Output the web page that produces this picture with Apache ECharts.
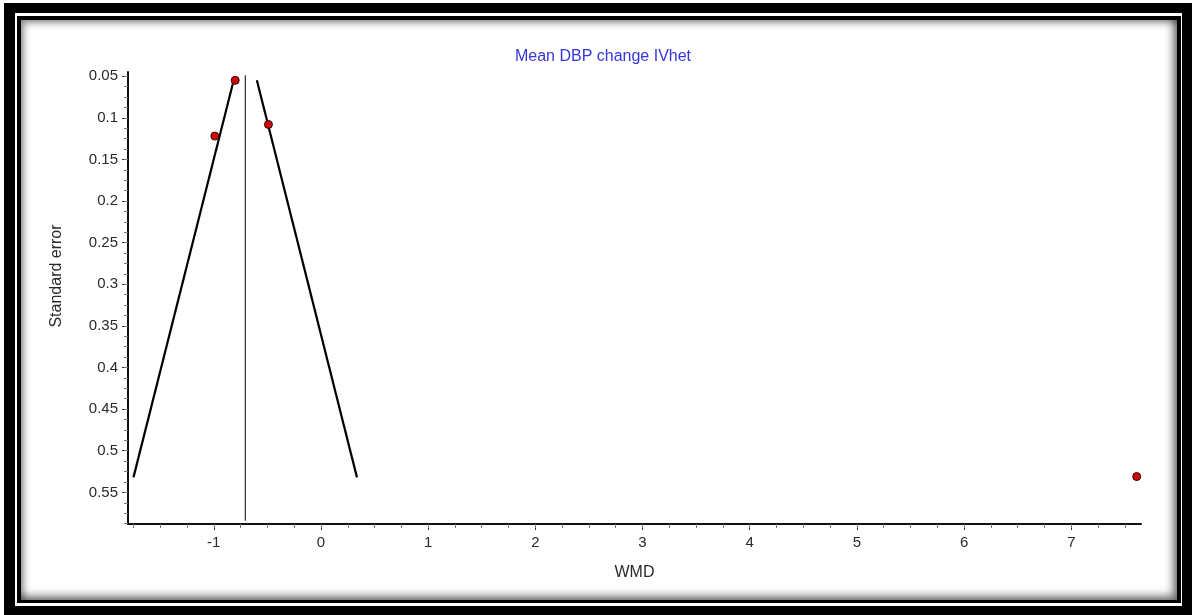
<!DOCTYPE html>
<html>
<head>
<meta charset="utf-8">
<script src="https://cdn.jsdelivr.net/npm/echarts@6/dist/echarts.min.js"></script>
<style>
  html, body { margin: 0; padding: 0; background: #fff; }
  #outer { position: absolute; left: 4px; top: 3px; width: 1188px; height: 612px; background: #000; }
  #gap { position: absolute; left: 15px; top: 13px; width: 1167px; height: 593px; background: #fff; }
  #inner { position: absolute; left: 17px; top: 16px; width: 1164px; height: 587px; background: #000; }
  #panel { position: absolute; left: 21px; top: 20px; width: 1156px; height: 580px; background: #fff;
           box-shadow: inset 3px 3px 7px rgba(0,0,0,0.4), inset -4px -4px 9px rgba(0,0,0,0.55); }
  #chart { position: absolute; left: 0; top: 0; width: 1192px; height: 615px; }
</style>
</head>
<body>
<div id="outer"></div>
<div id="gap"></div>
<div id="inner"></div>
<div id="panel"></div>
<div id="chart"></div>
<script>
// study estimates (WMD) and their standard errors
const wmd = [-0.80, -0.99, -0.49, 7.61];
const stdErr = [0.055, 0.122, 0.108, 0.531];

// pooled IVhet estimate and funnel limits
const pooled = -0.706;
const pooledLine = [[pooled, 0.049], [pooled, 0.584]];
const funnelLeft = [[-1.749, 0.532], [-0.814, 0.055]];
const funnelRight = [[-0.598, 0.055], [0.336, 0.532]];

// tick labels
const xTicks = [-1, 0, 1, 2, 3, 4, 5, 6, 7];
const yTicks = [0.05, 0.1, 0.15, 0.2, 0.25, 0.3, 0.35, 0.4, 0.45, 0.5, 0.55];

const xMin = -1.8, xMax = 7.65;
const yMin = 0.045, yMax = 0.588;

const xMinor = [];
for (let v = -1.75; v <= 7.5 + 1e-9; v += 0.25) xMinor.push(+v.toFixed(2));
const yMinor = [];
for (let v = 0.05; v <= 0.5875 + 1e-9; v += 0.0125) yMinor.push(+v.toFixed(4));

const points = wmd.map((x, i) => [x, stdErr[i]]);

const chart = echarts.init(document.getElementById('chart'));
const fam = 'Arial, Liberation Sans, sans-serif';
const labelFont = { fontFamily: fam, fontSize: 15, color: '#2a2a2a' };
const nameFont = { fontFamily: fam, fontSize: 16, color: '#2a2a2a' };

chart.setOption({
  animation: false,
  backgroundColor: 'transparent',
  title: {
    text: 'Mean DBP change IVhet',
    left: 598,
    top: 44,
    textAlign: 'center',
    textStyle: { fontFamily: fam, fontSize: 16, fontWeight: 'normal', color: '#3535dd' }
  },
  grid: { left: 128, top: 72, width: 1013, height: 452, containLabel: false },
  xAxis: [
    {
      type: 'value', min: xMin, max: xMax,
      splitLine: { show: false },
      axisLine: { show: true, onZero: false, lineStyle: { color: '#111', width: 2 } },
      axisTick: { show: true, customValues: xTicks, length: 6, lineStyle: { color: '#333', width: 1 } },
      axisLabel: { customValues: xTicks, margin: 11, ...labelFont },
      name: 'WMD', nameLocation: 'middle', nameGap: 41,
      nameTextStyle: nameFont
    },
    {
      type: 'value', min: xMin, max: xMax, position: 'bottom',
      splitLine: { show: false },
      axisLine: { show: false, onZero: false },
      axisTick: { show: true, customValues: xMinor, length: 4, lineStyle: { color: '#777', width: 1 } },
      axisLabel: { show: false }
    }
  ],
  yAxis: [
    {
      type: 'value', min: yMin, max: yMax, inverse: true,
      splitLine: { show: false },
      axisLine: { show: true, onZero: false, lineStyle: { color: '#111', width: 2 } },
      axisTick: { show: true, customValues: yTicks, length: 6, lineStyle: { color: '#333', width: 1 } },
      axisLabel: { customValues: yTicks, margin: 10, ...labelFont }
    },
    {
      type: 'value', min: yMin, max: yMax, inverse: true, position: 'left',
      splitLine: { show: false },
      axisLine: { show: false, onZero: false },
      axisTick: { show: true, customValues: yMinor, length: 4, lineStyle: { color: '#777', width: 1 } },
      axisLabel: { show: false }
    }
  ],
  graphic: [
    {
      type: 'text', x: 57, y: 276, rotation: Math.PI / 2,
      style: { text: 'Standard error', fill: '#2a2a2a', align: 'center', verticalAlign: 'middle', font: '16px ' + fam }
    }
  ],
  series: [
    {
      type: 'line', data: pooledLine, symbol: 'none', silent: true,
      lineStyle: { color: '#000', width: 1 }
    },
    {
      type: 'line', data: funnelLeft, symbol: 'none', silent: true,
      lineStyle: { color: '#000', width: 2.2 }
    },
    {
      type: 'line', data: funnelRight, symbol: 'none', silent: true,
      lineStyle: { color: '#000', width: 2.2 }
    },
    {
      type: 'scatter', data: points, symbolSize: 8, z: 5,
      itemStyle: { color: '#cc0a0a', borderColor: '#3a0000', borderWidth: 1, opacity: 1 }
    }
  ]
});
</script>
</body>
</html>
